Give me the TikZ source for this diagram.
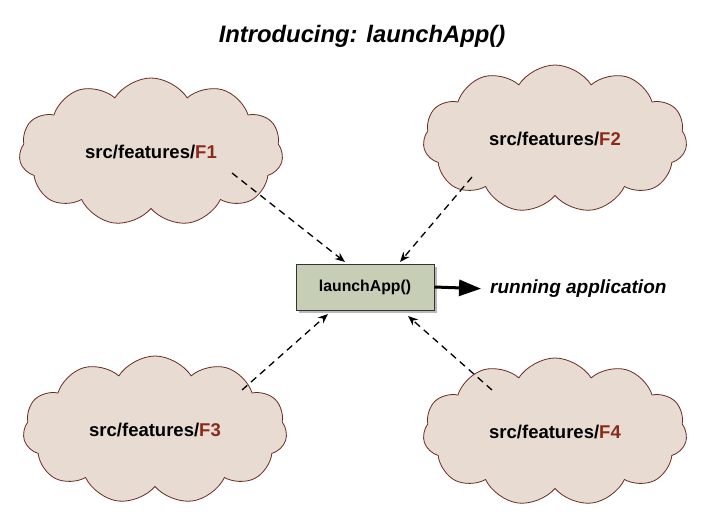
\documentclass[tikz,border=0pt]{standalone}
\usepackage{fontspec}
\setmainfont{Liberation Sans}
\usetikzlibrary{shapes.symbols,arrows.meta,shadows}
\definecolor{cloudfill}{HTML}{E8DCD2}
\definecolor{cloudline}{HTML}{6A2A22}
\definecolor{fred}{HTML}{8B2A1A}
\definecolor{boxfill}{HTML}{C6CEB6}
\tikzset{
  feat/.style={cloud, cloud puffs=11, cloud puff arc=115, aspect=1.8, draw=cloudline, fill=cloudfill, line width=0.8pt,
    minimum width=264pt, minimum height=148pt, font=\bfseries\fontsize{18.5}{22}\selectfont, inner sep=0pt},
  dep/.style={line width=1.3pt, dash pattern=on 7pt off 5pt, -{Stealth[length=10pt,width=8pt]}},
  appbox/.style={draw=black!80, fill=boxfill, line width=0.8pt, minimum width=138pt, minimum height=46pt,
    font=\bfseries\fontsize{15.8}{19}\selectfont, drop shadow={shadow xshift=3pt, shadow yshift=-3pt, fill=black!55}},
}
\begin{document}
\begin{tikzpicture}[x=1pt,y=-1pt]
\useasboundingbox (0,0) rectangle (721,524);
\node[font=\bfseries\itshape\fontsize{23.8}{28}\selectfont] (title) at (362,36) {Introducing: launchApp()};
\node[feat] (f1) at (151,152) {src/features/\textcolor{fred}{F1}};
\node[feat] (f2) at (555,139) {src/features/\textcolor{fred}{F2}};
\node[feat] (f3) at (155,430) {src/features/\textcolor{fred}{F3}};
\node[feat] (f4) at (555,432) {src/features/\textcolor{fred}{F4}};
\node[appbox] (app) at (365,287) {launchApp()};
\node[font=\bfseries\itshape\fontsize{19}{22}\selectfont, anchor=west, inner sep=0pt] (run) at (490,289) {running application};
\coordinate (a1) at (232,173);
\coordinate (a2) at (472,177);
\coordinate (a3) at (242,390);
\coordinate (a4) at (492,390);
\coordinate (b1) at (345,262);
\coordinate (b2) at (400,262);
\coordinate (b3) at (328,314);
\coordinate (b4) at (408,316);
\draw[dep] (a1) -- (b1);
\draw[dep] (a2) -- (b2);
\draw[dep] (a3) -- (b3);
\draw[dep] (a4) -- (b4);
\draw[line width=3pt, -{Triangle[length=22pt,width=16pt]}, shorten >=9pt] (app.east) -- (run.west);
\end{tikzpicture}
\end{document}
